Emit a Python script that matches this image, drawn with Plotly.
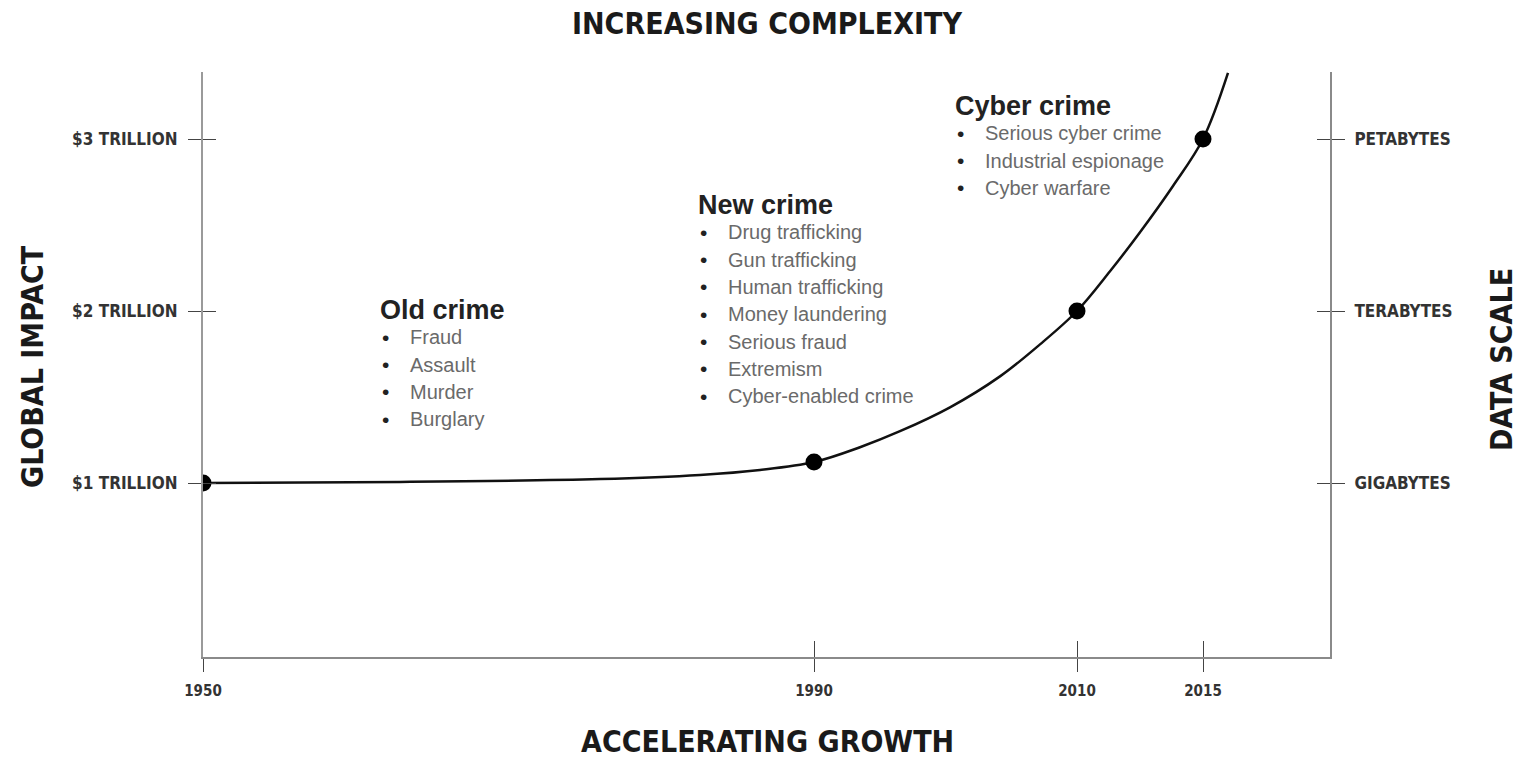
import plotly.graph_objects as go

# ---------------- data ----------------
years = ["1950", "1990", "2010", "2015"]
year_pos = [0, 611, 874, 1000]          # position of each year along the horizontal scale
impact = [1.0, 1.122, 2.0, 3.0]         # global impact ($ trillion) at the milestone dots

curve_x = [0, 197, 397, 497, 557, 611, 657, 697, 747, 797, 837, 874, 907, 937, 970, 1000, 1025]
curve_y = [1.0, 1.006, 1.023, 1.047, 1.076, 1.122, 1.208, 1.301, 1.440, 1.620, 1.806, 2.0,
           2.231, 2.458, 2.727, 3.0, 3.384]

impact_ticks = [1, 2, 3]
impact_labels = ["$1 TRILLION", "$2 TRILLION", "$3 TRILLION"]
scale_labels = ["GIGABYTES", "TERABYTES", "PETABYTES"]

blocks = [
    ("Old crime", ["Fraud", "Assault", "Murder", "Burglary"]),
    ("New crime", ["Drug trafficking", "Gun trafficking", "Human trafficking",
                   "Money laundering", "Serious fraud", "Extremism", "Cyber-enabled crime"]),
    ("Cyber crime", ["Serious cyber crime", "Industrial espionage", "Cyber warfare"]),
]

# ---------------- layout constants ----------------
W, H = 1522, 759
L, R, T, B = 203, 1330, 72, 657
X_RANGE = [0, 1127]
Y_RANGE = [-0.0116, 3.3895]

COND = "DejaVu Sans Condensed, Liberation Sans Narrow, Arial Narrow, sans-serif"
SANS = "Liberation Sans, Arial, Helvetica, sans-serif"


def paper(px, py):
    return (px - L) / (R - L), (B - py) / (B - T)


fig = go.Figure()

fig.add_trace(go.Scatter(x=curve_x, y=curve_y, mode="lines", line=dict(color="#111", width=2.5, shape="spline"),
                         hoverinfo="skip", showlegend=False))
fig.add_trace(go.Scatter(x=year_pos, y=impact, mode="markers", marker=dict(color="#000", size=17),
                         hoverinfo="skip", showlegend=False))
# invisible traces so that the overlay axes (crossing tick marks, right axis) are drawn
for xa, ya in [("x2", "y3"), ("x", "y2"), ("x", "y4")]:
    fig.add_trace(go.Scatter(x=[year_pos[0]], y=[impact[0]], xaxis=xa, yaxis=ya, mode="markers",
                             marker=dict(opacity=0), hoverinfo="skip", showlegend=False))

tickfont = dict(family=COND, size=17, color="#333", weight="bold")
common_axis = dict(showgrid=False, zeroline=False, fixedrange=True)
TICKC = "#444"

fig.update_layout(
    width=W, height=H,
    margin=dict(l=L, r=W - R, t=T, b=H - B, pad=0),
    paper_bgcolor="white", plot_bgcolor="white",
    showlegend=False,
    xaxis=dict(range=X_RANGE, tickvals=year_pos, ticktext=years, ticks="outside", ticklen=13,
               tickcolor=TICKC, tickwidth=1.2, showline=True, linecolor="#8a8a8a", linewidth=2,
               tickfont=dict(family=COND, size=15, color="#333", weight="bold"), ticklabelstandoff=6,
               **common_axis),
    xaxis2=dict(range=X_RANGE, overlaying="x", anchor="y", side="bottom", tickvals=year_pos,
                ticks="inside", ticklen=16, tickcolor=TICKC, tickwidth=1.2, showticklabels=False,
                showline=False, **common_axis),
    yaxis=dict(range=Y_RANGE, tickvals=impact_ticks, ticktext=impact_labels, ticks="outside", ticklen=13,
               tickcolor=TICKC, tickwidth=1.2, showline=True, linecolor="#9a9a9a", linewidth=2,
               tickfont=tickfont, ticklabelstandoff=7, **common_axis),
    yaxis3=dict(range=Y_RANGE, overlaying="y", anchor="x", side="left", tickvals=impact_ticks,
                ticks="inside", ticklen=13, tickcolor=TICKC, tickwidth=1.2, showticklabels=False,
                showline=False, **common_axis),
    yaxis2=dict(range=Y_RANGE, overlaying="y", anchor="x", side="right", tickvals=impact_ticks,
                ticktext=scale_labels, ticks="outside", ticklen=13, tickcolor=TICKC, tickwidth=1.2,
                showline=True, linecolor="#8a8a8a", linewidth=2, tickfont=tickfont, ticklabelstandoff=6,
                **common_axis),
    yaxis4=dict(range=Y_RANGE, overlaying="y", anchor="x", side="right", tickvals=impact_ticks,
                ticks="inside", ticklen=13, tickcolor=TICKC, tickwidth=1.2, showticklabels=False,
                showline=False, **common_axis),
)

annotations = []
title_font = dict(family=COND, size=30, color="#1a1a1a", weight="bold")
for text, px, py, ang in [("INCREASING COMPLEXITY", 767, 23, 0), ("ACCELERATING GROWTH", 767, 741, 0),
                          ("GLOBAL IMPACT", 32, 366, -90), ("DATA SCALE", 1501, 360, -90)]:
    xp, yp = paper(px, py)
    annotations.append(dict(text=text, x=xp, y=yp, xref="paper", yref="paper", xanchor="center",
                            yanchor="middle", showarrow=False, textangle=ang, font=title_font))

anchors = [(380, 310), (698, 205), (955, 106)]
STEP = 27.3
for (head, items), (hx, hy) in zip(blocks, anchors):
    xp, yp = paper(hx - 2, hy)
    annotations.append(dict(text=head, x=xp, y=yp, xref="paper", yref="paper", xanchor="left",
                            yanchor="middle", showarrow=False,
                            font=dict(family=SANS, size=27, color="#222", weight="bold")))
    for i, it in enumerate(items):
        py = hy + STEP * (i + 1)
        bx, by = paper(hx, py)
        annotations.append(dict(text="•", x=bx, y=by, xref="paper", yref="paper", xanchor="left",
                                yanchor="middle", showarrow=False,
                                font=dict(family=SANS, size=21, color="#222")))
        tx, ty = paper(hx + 28, py)
        annotations.append(dict(text=it, x=tx, y=ty, xref="paper", yref="paper", xanchor="left",
                                yanchor="middle", showarrow=False,
                                font=dict(family=SANS, size=20, color="#6a6a6a")))

fig.update_layout(annotations=annotations)
fig.write_html("out.html")
